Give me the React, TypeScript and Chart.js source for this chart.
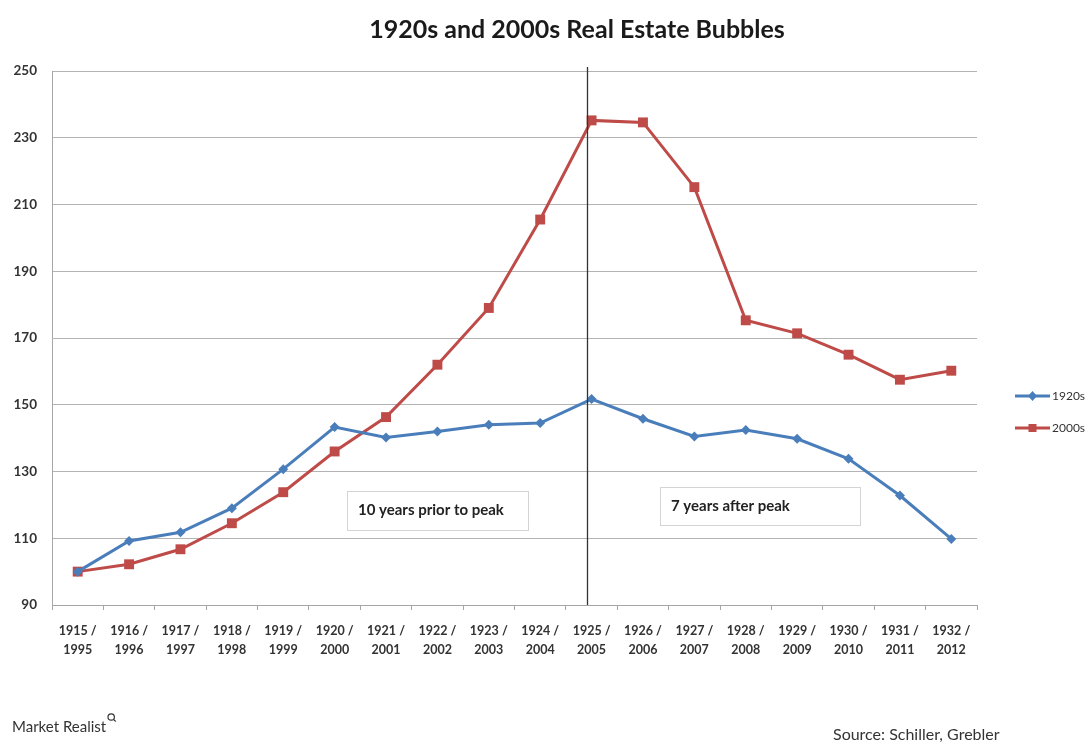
import React, { useEffect, useRef } from "react";
import { Chart, registerables } from "chart.js";

Chart.register(...registerables);

const categories: string[][] = [
  ["1915 /", "1995"], ["1916 /", "1996"], ["1917 /", "1997"], ["1918 /", "1998"],
  ["1919 /", "1999"], ["1920 /", "2000"], ["1921 /", "2001"], ["1922 /", "2002"],
  ["1923 /", "2003"], ["1924 /", "2004"], ["1925 /", "2005"], ["1926 /", "2006"],
  ["1927 /", "2007"], ["1928 /", "2008"], ["1929 /", "2009"], ["1930 /", "2010"],
  ["1931 /", "2011"], ["1932 /", "2012"],
];

const series1920s: number[] = [
  100, 109.2, 111.8, 119, 130.7, 143.3, 140.2, 142, 144, 144.5,
  151.7, 145.8, 140.5, 142.4, 139.8, 133.8, 122.8, 109.8,
];

const series2000s: number[] = [
  100, 102.2, 106.7, 114.5, 123.8, 136, 146.3, 162, 179, 205.5,
  235.2, 234.6, 215.2, 175.3, 171.4, 165, 157.5, 160.2,
];

const yMin = 90;
const yMax = 250;
const yStep = 20;

const titleText = "1920s and 2000s Real Estate Bubbles";
const seriesNames = ["1920s", "2000s"];
const annotationLeft = "10 years prior to peak";
const annotationRight = "7 years after peak";
const peakIndex = 10;
const sourceText = "Source: Schiller, Grebler";
const brandText = "Market Realist";

const BLUE = "#4A7EBB";
const RED = "#BE4B48";
const FONT = "Lato, 'Open Sans', sans-serif";

const overlayPlugin = {
  id: "overlay",
  afterDatasetsDraw(chart: any) {
    const { ctx, chartArea, scales } = chart;
    const x = scales.x;
    ctx.save();
    const px = Math.round(x.getPixelForValue(peakIndex) - 5) + 0.5;
    ctx.strokeStyle = "#333333";
    ctx.lineWidth = 1.3;
    ctx.beginPath();
    ctx.moveTo(px, chartArea.top - 4);
    ctx.lineTo(px, chartArea.bottom);
    ctx.stroke();
    ctx.restore();
  },
  afterDraw(chart: any) {
    const { ctx } = chart;
    ctx.save();
    // title
    ctx.fillStyle = "#1a1a1a";
    ctx.font = `bold 25px ${FONT}`;
    ctx.textAlign = "center";
    ctx.textBaseline = "middle";
    ctx.fillText(titleText, 577, 30);

    // annotation boxes
    const boxes = [
      { text: annotationLeft, x: 347, y: 491, w: 181, h: 39 },
      { text: annotationRight, x: 660, y: 487, w: 200, h: 38 },
    ];
    boxes.forEach((b) => {
      ctx.fillStyle = "#ffffff";
      ctx.fillRect(b.x, b.y, b.w, b.h);
      ctx.strokeStyle = "#d4d4d4";
      ctx.lineWidth = 1;
      ctx.strokeRect(b.x + 0.5, b.y + 0.5, b.w, b.h);
      ctx.fillStyle = "#222222";
      ctx.font = `bold 15px ${FONT}`;
      ctx.textAlign = "left";
      ctx.textBaseline = "middle";
      ctx.fillText(b.text, b.x + 11, b.y + b.h / 2);
    });

    // legend
    const legendItems = [
      { name: seriesNames[0], color: BLUE, style: "rectRot", y: 396 },
      { name: seriesNames[1], color: RED, style: "rect", y: 428 },
    ];
    legendItems.forEach((it) => {
      ctx.strokeStyle = it.color;
      ctx.lineWidth = 3;
      ctx.beginPath();
      ctx.moveTo(1015, it.y);
      ctx.lineTo(1050, it.y);
      ctx.stroke();
      ctx.fillStyle = it.color;
      if (it.style === "rect") {
        ctx.fillRect(1032.5 - 4, it.y - 4, 8, 8);
      } else {
        ctx.beginPath();
        ctx.moveTo(1032.5, it.y - 5);
        ctx.lineTo(1037, it.y);
        ctx.lineTo(1032.5, it.y + 5);
        ctx.lineTo(1028, it.y);
        ctx.closePath();
        ctx.fill();
      }
      ctx.fillStyle = "#333333";
      ctx.font = `12px ${FONT}`;
      ctx.textAlign = "left";
      ctx.textBaseline = "middle";
      ctx.fillText(it.name, 1052, it.y);
    });

    // footer
    ctx.fillStyle = "#333333";
    ctx.font = `15px ${FONT}`;
    ctx.textAlign = "left";
    ctx.textBaseline = "middle";
    ctx.fillText(brandText, 12, 727);
    const bw = ctx.measureText(brandText).width;
    ctx.strokeStyle = "#333333";
    ctx.lineWidth = 1.2;
    ctx.beginPath();
    ctx.arc(12 + bw + 5, 717, 3.2, 0, Math.PI * 2);
    ctx.stroke();
    ctx.beginPath();
    ctx.moveTo(12 + bw + 7.3, 719.3);
    ctx.lineTo(12 + bw + 9.5, 721.5);
    ctx.stroke();

    ctx.font = `16px ${FONT}`;
    ctx.fillText(sourceText, 833, 735);
    ctx.restore();
  },
};

export default function App() {
  const canvasRef = useRef<HTMLCanvasElement | null>(null);

  useEffect(() => {
    if (!canvasRef.current) return;
    const chart = new Chart(canvasRef.current, {
      type: "line",
      data: {
        labels: categories,
        datasets: [
          {
            label: seriesNames[0],
            data: series1920s,
            borderColor: BLUE,
            backgroundColor: BLUE,
            borderWidth: 3,
            pointStyle: "rectRot",
            pointRadius: 5,
            pointBorderWidth: 0,
            tension: 0,
          },
          {
            label: seriesNames[1],
            data: series2000s,
            borderColor: RED,
            backgroundColor: RED,
            borderWidth: 3,
            pointStyle: "rect",
            pointRadius: 7,
            pointBorderWidth: 0,
            tension: 0,
          },
        ],
      },
      options: {
        animation: false,
        responsive: false,
        maintainAspectRatio: false,
        devicePixelRatio: 1,
        layout: { padding: { top: 71, right: 110, bottom: 0, left: 0 } },
        plugins: {
          legend: { display: false },
          title: { display: false },
          tooltip: { enabled: false },
        },
        scales: {
          x: {
            offset: true,
            grid: {
              display: true,
              offset: true,
              drawOnChartArea: false,
              drawTicks: true,
              tickLength: 5,
              color: "#a6a6a6",
            },
            border: { display: true, color: "#a6a6a6", width: 1 },
            ticks: {
              autoSkip: false,
              maxRotation: 0,
              minRotation: 0,
              padding: 12,
              color: "#333333",
              font: { family: FONT, size: 12.5, weight: "bold", lineHeight: 1.5 },
            },
            afterFit(scale: any) {
              scale.height = 137;
            },
          },
          y: {
            min: yMin,
            max: yMax,
            ticks: {
              stepSize: yStep,
              padding: 15,
              color: "#333333",
              font: { family: FONT, size: 13.5, weight: "bold" },
            },
            grid: { color: "#b3b3b3", lineWidth: 1, drawTicks: false },
            border: { display: true, color: "#a6a6a6", width: 1 },
            afterFit(scale: any) {
              scale.width = 52;
            },
          },
        },
      },
      plugins: [overlayPlugin],
    });
    return () => chart.destroy();
  }, []);

  return (
    <div style={{ position: "absolute", left: 0, top: 0, width: 1087, height: 742, background: "#ffffff" }}>
      <canvas ref={canvasRef} width={1087} height={742} style={{ width: 1087, height: 742 }} />
    </div>
  );
}
